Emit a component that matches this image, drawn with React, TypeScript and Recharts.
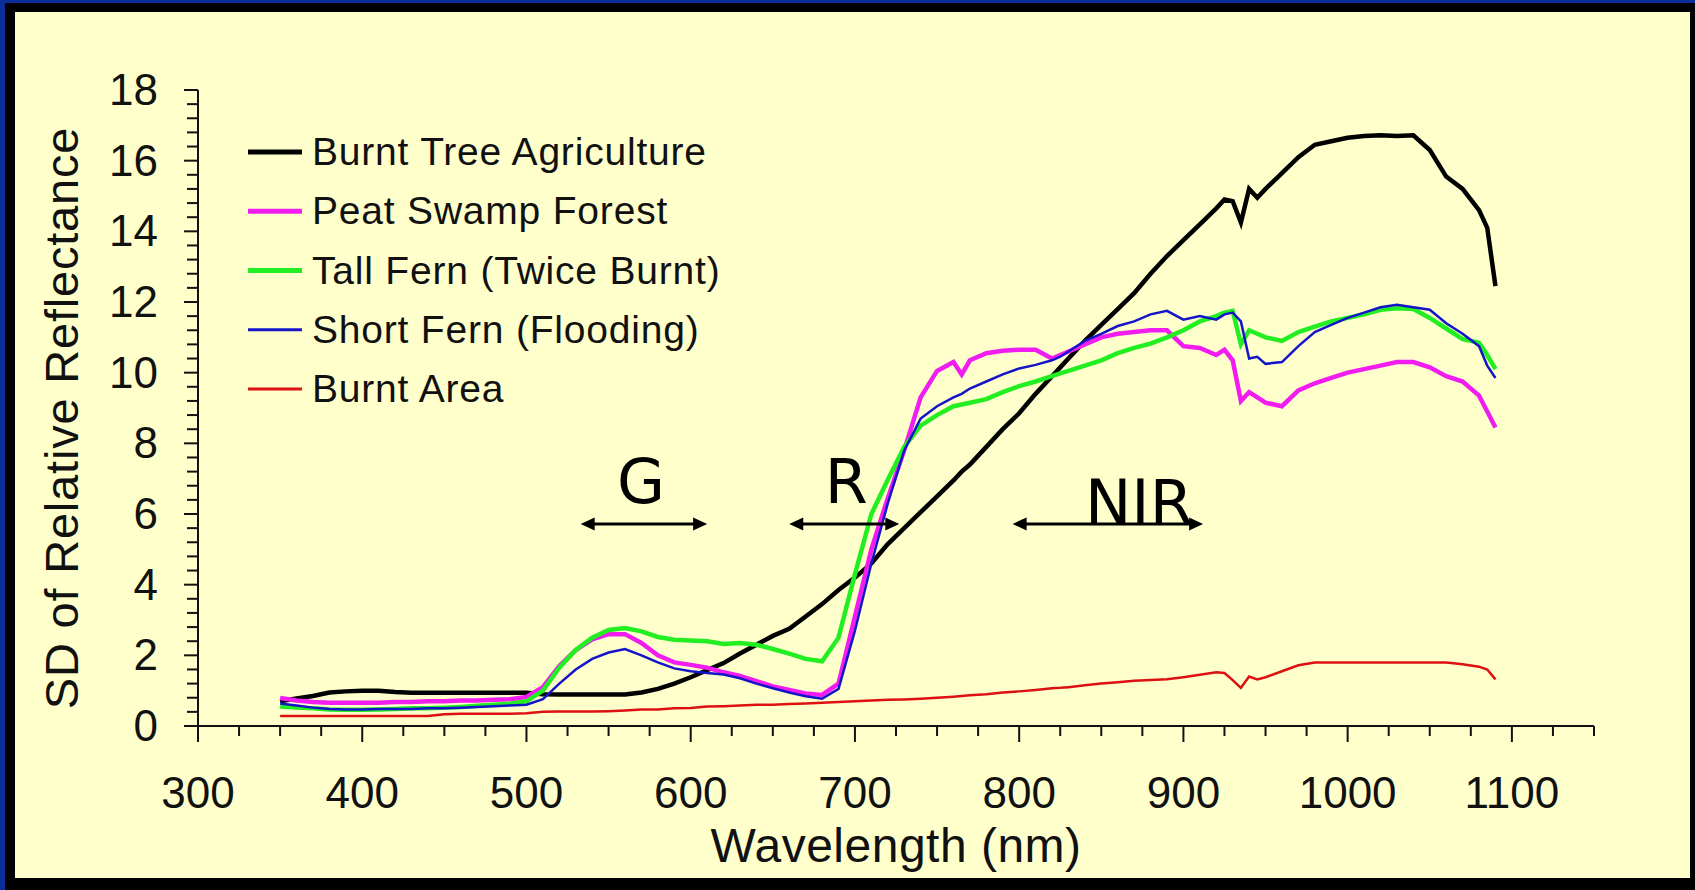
import React from 'react';
import { LineChart, Line, XAxis, YAxis, Legend, ReferenceLine, Label } from 'recharts';

// wavelength (nm) shared by all curves
const wavelengths = [
  350, 360, 370, 380, 390, 400, 410, 420, 430, 440,
  450, 460, 470, 480, 490, 500, 510, 520, 530, 540,
  550, 560, 570, 580, 590, 600, 610, 620, 630, 640,
  650, 660, 670, 680, 690, 700, 710, 720, 730, 740,
  750, 760, 765, 770, 780, 790, 800, 810, 820, 825,
  830, 840, 850, 860, 870, 880, 890, 900, 910, 920,
  925, 930, 935, 940, 945, 950, 960, 970, 980, 990,
  1000, 1010, 1020, 1030, 1040, 1050, 1060, 1070, 1080, 1085,
  1090,
];

const burntTreeAgriculture = [
  0.7, 0.78, 0.85, 0.95, 0.98, 1.0, 1.0, 0.96, 0.94, 0.94,
  0.94, 0.94, 0.94, 0.94, 0.94, 0.94, 0.9, 0.89, 0.89, 0.89,
  0.89, 0.89, 0.95, 1.05, 1.2, 1.38, 1.58, 1.78, 2.05, 2.3,
  2.55, 2.75, 3.1, 3.45, 3.85, 4.2, 4.6, 5.15, 5.6, 6.05,
  6.5, 6.95, 7.2, 7.4, 7.9, 8.4, 8.85, 9.4, 9.9, 10.15,
  10.4, 10.9, 11.35, 11.8, 12.25, 12.8, 13.3, 13.75, 14.2, 14.65,
  14.9, 14.85, 14.25, 15.2, 14.95, 15.2, 15.65, 16.1, 16.45, 16.55,
  16.65, 16.7, 16.72, 16.7, 16.72, 16.3, 15.55, 15.2, 14.6, 14.1,
  12.45,
];

const peatSwampForest = [
  0.79, 0.72, 0.68, 0.66, 0.66, 0.66, 0.66, 0.68, 0.68, 0.7,
  0.7, 0.72, 0.72, 0.74, 0.76, 0.82, 1.1, 1.7, 2.15, 2.45,
  2.6, 2.6, 2.35, 2.0, 1.8, 1.73, 1.65, 1.52, 1.42, 1.27,
  1.12, 1.02, 0.92, 0.88, 1.2, 3.1, 5.0, 6.45, 7.8, 9.3,
  10.05, 10.3, 9.95, 10.35, 10.55, 10.62, 10.65, 10.65, 10.4, 10.5,
  10.6, 10.8, 11.0, 11.1, 11.15, 11.2, 11.2, 10.75, 10.7, 10.5,
  10.65, 10.35, 9.2, 9.45, 9.3, 9.15, 9.05, 9.5, 9.7, 9.85,
  10.0, 10.1, 10.2, 10.3, 10.3, 10.15, 9.9, 9.75, 9.35, 8.9,
  8.45,
];

const tallFernTwiceBurnt = [
  0.55, 0.52, 0.5, 0.47, 0.46, 0.46, 0.47, 0.48, 0.5, 0.5,
  0.52, 0.54, 0.57, 0.6, 0.63, 0.7, 1.0, 1.65, 2.15, 2.5,
  2.72, 2.77, 2.68, 2.52, 2.44, 2.42, 2.4, 2.32, 2.35, 2.3,
  2.18, 2.05, 1.9, 1.83, 2.5, 4.3, 6.0, 6.97, 7.9, 8.5,
  8.8, 9.05, 9.1, 9.15, 9.25, 9.45, 9.62, 9.75, 9.9, 9.98,
  10.05, 10.2, 10.35, 10.55, 10.7, 10.82, 11.0, 11.2, 11.45, 11.6,
  11.7, 11.75, 10.8, 11.2, 11.1, 11.0, 10.9, 11.15, 11.3, 11.45,
  11.55, 11.65, 11.78, 11.82, 11.8, 11.55, 11.25, 10.95, 10.85, 10.5,
  10.1,
];

const shortFernFlooding = [
  0.64, 0.58, 0.52, 0.48, 0.47, 0.47, 0.48, 0.48, 0.48, 0.5,
  0.5, 0.52, 0.54, 0.56, 0.58, 0.6, 0.76, 1.2, 1.6, 1.9,
  2.08, 2.18, 2.0, 1.8, 1.63, 1.55, 1.5, 1.46, 1.35, 1.2,
  1.07, 0.95, 0.84, 0.77, 1.05, 2.7, 4.6, 6.3, 7.8, 8.7,
  9.05, 9.3, 9.4, 9.55, 9.75, 9.95, 10.12, 10.22, 10.35, 10.45,
  10.6, 10.9, 11.1, 11.32, 11.45, 11.65, 11.75, 11.5, 11.6, 11.5,
  11.65, 11.7, 11.45, 10.4, 10.45, 10.25, 10.3, 10.75, 11.15, 11.35,
  11.55, 11.7, 11.85, 11.92, 11.85, 11.78, 11.4, 11.1, 10.75, 10.2,
  9.85,
];

const burntArea = [
  0.28, 0.28, 0.28, 0.28, 0.28, 0.28, 0.28, 0.28, 0.28, 0.28,
  0.33, 0.35, 0.35, 0.35, 0.35, 0.36, 0.4, 0.41, 0.41, 0.41,
  0.42, 0.44, 0.47, 0.47, 0.5, 0.51, 0.55, 0.56, 0.58, 0.6,
  0.6, 0.62, 0.64, 0.66, 0.68, 0.7, 0.72, 0.74, 0.75, 0.77,
  0.8, 0.83, 0.85, 0.87, 0.9, 0.95, 0.98, 1.02, 1.07, 1.08,
  1.1, 1.15, 1.2, 1.24, 1.28, 1.3, 1.32, 1.38, 1.45, 1.52,
  1.5, 1.3, 1.08, 1.4, 1.32, 1.38, 1.55, 1.72, 1.8, 1.8,
  1.8, 1.8, 1.8, 1.8, 1.8, 1.8, 1.8, 1.75, 1.68, 1.6,
  1.32,
];

const xTicks = Array.from({ length: 35 }, (_, i) => 300 + i * 25);
const yTicks = Array.from({ length: 46 }, (_, i) => Math.round(i * 4) / 10);

const series = [
  { key: 'agri', name: 'Burnt Tree Agriculture', color: '#000000', width: 4.5, legendWidth: 5 },
  { key: 'peat', name: 'Peat Swamp Forest', color: '#f01cf0', width: 4.5, legendWidth: 5 },
  { key: 'tall', name: 'Tall Fern (Twice Burnt)', color: '#22ee22', width: 4.5, legendWidth: 5 },
  { key: 'short', name: 'Short Fern (Flooding)', color: '#1414c8', width: 2.5, legendWidth: 3 },
  { key: 'burnt', name: 'Burnt Area', color: '#dd1111', width: 2.5, legendWidth: 3 },
];

// band annotations, in data units
const bands = [
  { label: 'G', from: 533, to: 610, y: 5.72, dx: -3, dy: -21 },
  { label: 'R', from: 660, to: 727, y: 5.72, dx: 2, dy: -21 },
  { label: 'NIR', from: 796, to: 912, y: 5.72, dx: 31, dy: 0 },
];

const rows = wavelengths.map((nm, i) => ({
  nm,
  agri: burntTreeAgriculture[i],
  peat: peatSwampForest[i],
  tall: tallFernTwiceBurnt[i],
  short: shortFernFlooding[i],
  burnt: burntArea[i],
}));

const SANS = '"Liberation Sans", Arial, sans-serif';

const XTick = ({ x, y, payload }: any) => {
  const v = payload.value;
  const major = v % 100 === 0;
  return (
    <g>
      <line x1={x} x2={x} y1={y} y2={y + (major ? 16 : 10)} stroke="#111" strokeWidth={2} />
      {major && (
        <text x={x} y={y + 82} textAnchor="middle" fontSize={44} fontFamily={SANS} fill="#111">
          {v}
        </text>
      )}
    </g>
  );
};

const YTick = ({ x, y, payload }: any) => {
  const v = payload.value;
  const major = Math.abs(v / 2 - Math.round(v / 2)) < 1e-6;
  return (
    <g>
      <line x1={x - (major ? 14 : 11)} x2={x} y1={y} y2={y} stroke="#111" strokeWidth={2} />
      {major && (
        <text x={x - 40} y={y + 15} textAnchor="end" fontSize={44} fontFamily={SANS} fill="#111">
          {v}
        </text>
      )}
    </g>
  );
};

const arrowShape = (label: string, dx: number, dy: number) => (p: any) => {
  const { x1, y1, x2 } = p;
  const h = 14;
  const w = 6.5;
  return (
    <g>
      <line x1={x1 + h - 2} y1={y1} x2={x2 - h + 2} y2={y1} stroke="#000" strokeWidth={3} />
      <polygon points={`${x1},${y1} ${x1 + h},${y1 - w} ${x1 + h},${y1 + w}`} fill="#000" />
      <polygon points={`${x2},${y1} ${x2 - h},${y1 - w} ${x2 - h},${y1 + w}`} fill="#000" />
      <text x={(x1 + x2) / 2 + dx} y={y1 + dy} textAnchor="middle" fontFamily='"DejaVu Sans", sans-serif' fontSize={62} fill="#000">
        {label}
      </text>
    </g>
  );
};

// keep legend in series order (recharts sorts by name otherwise)
const LegendBox = ({ payload }: any) => {
  const items = [...(payload || [])].sort(
    (a: any, b: any) =>
      series.findIndex((s) => s.name === a.value) - series.findIndex((s) => s.name === b.value)
  );
  return (
    <svg width={480} height={300}>
      {items.map((entry: any, i: number) => {
        const s = series.find((d) => d.name === entry.value);
        const base = 45 + i * 59.25;
        return (
          <g key={entry.value}>
            <line x1={8} x2={62} y1={base - 13} y2={base - 13} stroke={entry.color} strokeWidth={s ? s.legendWidth : 3} />
            <text x={72} y={base} fontSize={39} letterSpacing={0.8} fontFamily={SANS} fill="#111">
              {entry.value}
            </text>
          </g>
        );
      })}
    </svg>
  );
};

export default function App() {
  return (
    <div style={{ position: 'absolute', left: 0, top: 0, width: 1695, height: 890, background: '#0c2e9a', overflow: 'hidden' }}>
      <div style={{ position: 'absolute', left: 5, top: 3, width: 1690, height: 887, background: '#000' }} />
      <div style={{ position: 'absolute', left: 15, top: 12, width: 1675, height: 866, background: '#ffffcc' }} />
      <div style={{ position: 'absolute', left: 0, top: 0 }}>
        <LineChart width={1695} height={890} data={rows} margin={{ top: 90, right: 101, bottom: 64, left: 98 }}>
          <XAxis
            dataKey="nm"
            type="number"
            domain={[300, 1150]}
            ticks={xTicks}
            interval={0}
            height={100}
            tickSize={0}
            tickMargin={0}
            tickLine={false}
            axisLine={{ stroke: '#111', strokeWidth: 2 }}
            tick={<XTick />}
          >
            <Label
              content={({ viewBox }: any) => (
                <text
                  x={viewBox.x + viewBox.width / 2}
                  y={viewBox.y + 136}
                  textAnchor="middle"
                  fontSize={48}
                  letterSpacing={0.5}
                  fontFamily={SANS}
                  fill="#111"
                >
                  Wavelength (nm)
                </text>
              )}
            />
          </XAxis>
          <YAxis
            type="number"
            domain={[0, 18]}
            ticks={yTicks}
            interval={0}
            width={100}
            tickSize={0}
            tickMargin={0}
            tickLine={false}
            axisLine={{ stroke: '#111', strokeWidth: 2 }}
            tick={<YTick />}
          >
            <Label
              content={({ viewBox }: any) => {
                const cx = viewBox.x - 20;
                const cy = viewBox.y + viewBox.height / 2 + 10;
                return (
                  <text
                    x={cx}
                    y={cy}
                    transform={`rotate(-90 ${cx} ${cy})`}
                    textAnchor="middle"
                    fontSize={47}
                    letterSpacing={0.8}
                    fontFamily={SANS}
                    fill="#111"
                  >
                    SD of Relative Reflectance
                  </text>
                );
              }}
            />
          </YAxis>
          <Legend
            layout="vertical"
            align="center"
            verticalAlign="middle"
            wrapperStyle={{ left: 240, top: 120, width: 480, height: 300 }}
            content={<LegendBox />}
          />
          {series.map((s) => (
            <Line
              key={s.key}
              type="linear"
              dataKey={s.key}
              name={s.name}
              stroke={s.color}
              strokeWidth={s.width}
              dot={false}
              activeDot={false}
              isAnimationActive={false}
            />
          ))}
          {bands.map((b) => (
            <ReferenceLine
              key={b.label}
              segment={[{ x: b.from, y: b.y }, { x: b.to, y: b.y }]}
              shape={arrowShape(b.label, b.dx, b.dy)}
            />
          ))}
        </LineChart>
      </div>
    </div>
  );
}
